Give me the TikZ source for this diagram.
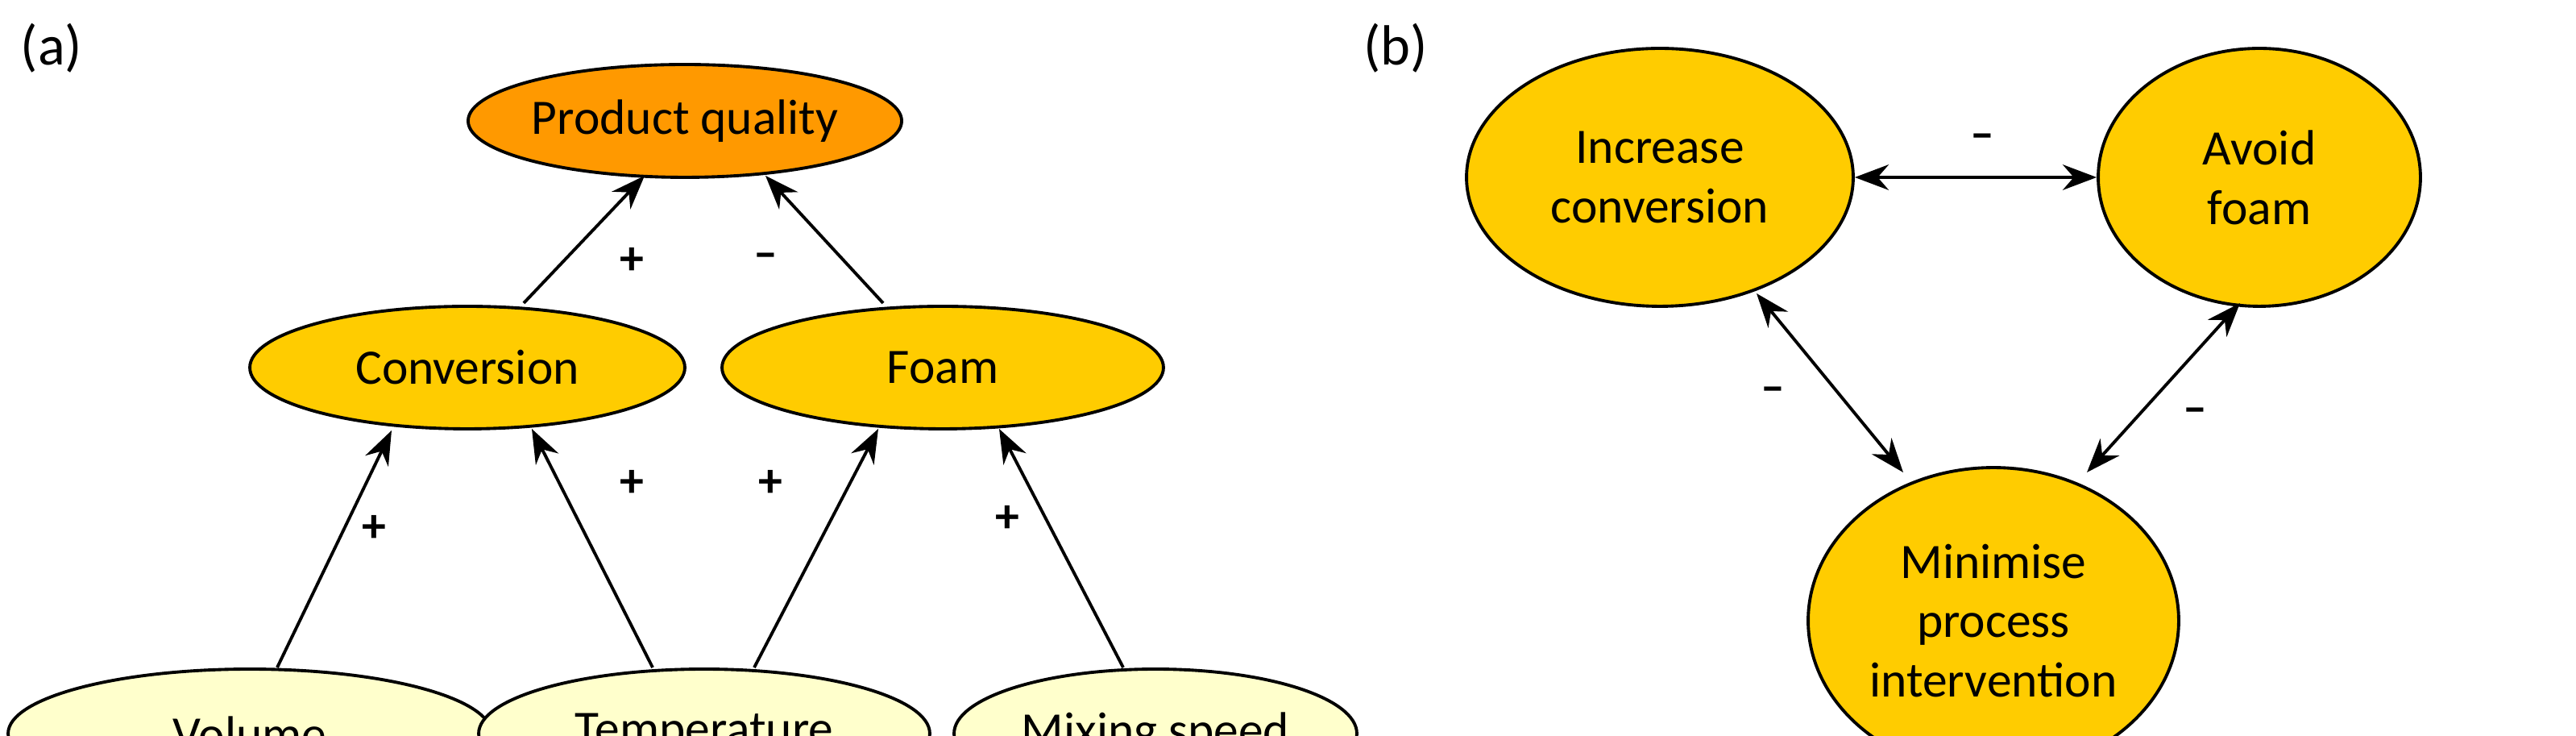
\documentclass[tikz,border=0pt]{standalone}
\usepackage{fontspec}
\setmainfont{Carlito}
\usetikzlibrary{shapes.geometric,arrows.meta}
\definecolor{dark}{HTML}{FF9900}
\definecolor{mid}{HTML}{FFCC00}
\definecolor{light}{HTML}{FFFFCC}
\begin{document}
\begin{tikzpicture}[x=0.02cm,y=-0.02cm,
  el/.style={ellipse,draw,line width=1.1pt,inner sep=0pt,font=\fontsize{17.5}{21}\selectfont,align=center},
  ar/.style={line width=1.1pt,-{Stealth[length=12pt,width=9pt]}},
  dar/.style={line width=1.1pt,{Stealth[length=12pt,width=9pt]}-{Stealth[length=12pt,width=9pt]}},
  lb/.style={font=\fontsize{17}{20}\selectfont\bfseries}]
\useasboundingbox (0,0) rectangle (1598.5,456.5);
\node[el,fill=dark,minimum width=5cm,minimum height=1.4cm] (pq) at (425,75) {Product quality};
\node[el,fill=mid,minimum width=5.4cm,minimum height=1.52cm] (conv) at (290,228) {Conversion};
\node[el,fill=mid,minimum width=5.48cm,minimum height=1.52cm] (foam) at (585,228) {Foam};
\node[el,fill=light,minimum width=6cm,minimum height=1.6cm] (vol) at (155,455) {Volume};
\node[el,fill=light,minimum width=5.6cm,minimum height=1.6cm] (temp) at (437,455) {Temperature};
\node[el,fill=light,minimum width=5cm,minimum height=1.6cm] (mix) at (717,455) {Mixing speed};
\coordinate (c1) at (325,188); \coordinate (p1) at (400,109);
\coordinate (f1) at (548,188); \coordinate (p2) at (475,109);
\draw[ar] (c1) -- (p1);
\draw[ar] (f1) -- (p2);
\draw[ar] (vol.north) ++(17,0) coordinate (v1) -- (243,267) coordinate (ce1);
\draw[ar] (temp.north) ++(-32,0) coordinate (t1) -- (330,266) coordinate (ce2);
\draw[ar] (temp.north) ++(31,0) coordinate (t2) -- (545,266) coordinate (fe1);
\draw[ar] (mix.north) ++(-20,0) coordinate (m1) -- (620,266) coordinate (fe2);
\node[lb] at (392,162) {+};
\node[lb] at (475,162) {--};
\node[lb] at (232,328) {+};
\node[lb] at (392,300) {+};
\node[lb] at (478,300) {+};
\node[lb] at (625,322) {+};
\node[font=\fontsize{20}{24}\selectfont] (la) at (32,30) {(a)};
\node[font=\fontsize{20}{24}\selectfont] (lb2) at (866,30) {(b)};
\node[el,fill=mid,minimum width=4.8cm,minimum height=3.2cm] (ic) at (1030,110) {Increase\\conversion};
\node[el,fill=mid,minimum width=4cm,minimum height=3.2cm] (af) at (1402,110) {Avoid\\foam};
\node[el,fill=mid,minimum width=4.6cm,minimum height=3.8cm] (mp) at (1237,385) {Minimise\\process\\intervention};
\draw[dar] (ic.east) -- (af.west);
\draw[dar] (1090,182) coordinate (a1) -- (1181,293) coordinate (a2);
\draw[dar] (1390,188) coordinate (b1) -- (1295,293) coordinate (b2);
\node[lb] at (1230,88) {--};
\node[lb] at (1100,245) {--};
\node[lb] at (1362,258) {--};
\end{tikzpicture}
\end{document}
